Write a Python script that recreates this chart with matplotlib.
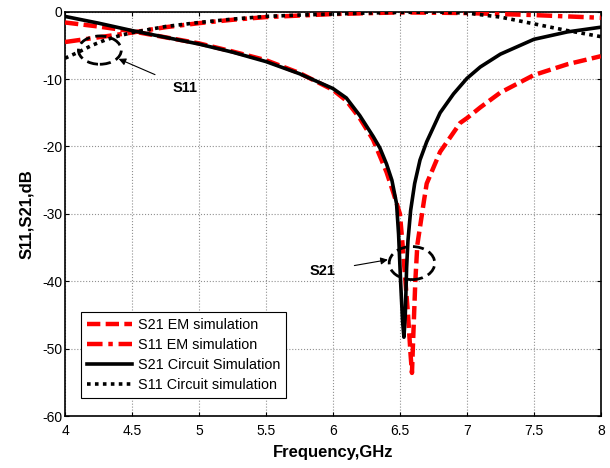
import matplotlib
matplotlib.use("Agg")
import matplotlib.pyplot as plt
from matplotlib.patches import Ellipse

plt.rcParams['font.family'] = ['Liberation Sans', 'DejaVu Sans']

# S21 circuit simulation (black solid)
f_s21c = [4.0, 4.25, 4.5, 4.75, 5.0, 5.25, 5.5, 5.75, 6.0, 6.1, 6.2, 6.3, 6.35, 6.4, 6.44,
          6.475, 6.49, 6.505, 6.52, 6.53, 6.54, 6.55, 6.56, 6.58, 6.61, 6.65, 6.7, 6.8,
          6.9, 7.0, 7.1, 7.25, 7.5, 7.75, 8.0]
s21c = [-0.7, -1.7, -2.8, -3.8, -4.8, -6.0, -7.4, -9.2, -11.4, -12.8, -15.4, -18.5, -20.2, -22.6, -25.0,
        -28.5, -33.0, -40.0, -46.0, -48.3, -45.0, -38.0, -34.0, -29.5, -25.5, -22.0, -19.3, -15.0,
        -12.2, -9.9, -8.2, -6.3, -4.1, -3.0, -2.3]

# S21 EM simulation (red dashed)
f_s21e = [4.0, 4.25, 4.5, 4.75, 5.0, 5.25, 5.5, 5.75, 6.0, 6.1, 6.2, 6.3, 6.4, 6.45, 6.5,
          6.52, 6.56, 6.58, 6.59, 6.6, 6.615, 6.63, 6.68, 6.7, 6.8, 6.95, 7.0, 7.1, 7.25,
          7.5, 7.75, 8.0]
s21e = [-1.6, -2.2, -2.9, -3.8, -4.7, -5.9, -7.2, -9.1, -11.6, -13.2, -15.8, -19.0, -23.8, -26.8, -30.0,
        -34.6, -44.8, -51.0, -53.6, -48.0, -40.0, -34.6, -28.0, -25.5, -20.8, -16.5, -15.8, -14.2, -12.0,
        -9.4, -7.8, -6.6]

# S11 EM simulation (red dash-dot)
f_s11e = [4.0, 4.25, 4.5, 4.75, 5.0, 5.25, 5.5, 6.0, 6.5, 7.0, 7.5, 8.0]
s11e = [-4.5, -3.8, -3.1, -2.3, -1.7, -1.2, -0.8, -0.35, -0.1, -0.2, -0.5, -0.9]

# S11 circuit simulation (black dotted)
f_s11c = [4.0, 4.1, 4.2, 4.3, 4.4, 4.5, 4.75, 5.0, 5.25, 5.5, 5.75, 6.0, 6.25, 6.5, 6.75,
          7.0, 7.25, 7.5, 7.75, 8.0]
s11c = [-6.9, -6.0, -5.0, -4.2, -3.6, -3.1, -2.2, -1.6, -1.1, -0.7, -0.5, -0.35, -0.2, -0.1, -0.05,
        -0.2, -0.8, -1.8, -2.8, -3.7]

xticks = [4, 4.5, 5, 5.5, 6, 6.5, 7, 7.5, 8]
xticklabels = ['4', '4.5', '5', '5.5', '6', '6.5', '7', '7.5', '8']
yticks = [-60, -50, -40, -30, -20, -10, 0]
yticklabels = ['-60', '-50', '-40', '-30', '-20', '-10', '0']

fig = plt.figure(figsize=(6.10, 4.68), dpi=100)
ax = fig.add_axes([0.1066, 0.111, 0.8784, 0.864])

ax.plot(f_s21e, s21e, color='red', lw=3.2, ls=(0, (3, 1.2)), label='S21 EM simulation', zorder=3)
ax.plot(f_s11e, s11e, color='red', lw=3.2, ls=(0, (3.5, 1.3, 1, 1.3)), label='S11 EM simulation', zorder=3)
ax.plot(f_s21c, s21c, color='black', lw=2.6, ls='-', label='S21 Circuit Simulation', zorder=4)
ax.plot(f_s11c, s11c, color='black', lw=2.6, ls=(0, (1, 1.2)), label='S11 Circuit simulation', zorder=4)

ax.set_xlim(4, 8)
ax.set_ylim(-60, 0)
ax.set_xticks(xticks)
ax.set_xticklabels(xticklabels)
ax.set_yticks(yticks)
ax.set_yticklabels(yticklabels)
ax.tick_params(direction='in', labelsize=10, length=3, top=True, right=True)
ax.tick_params(axis='x', pad=6)
ax.tick_params(axis='y', pad=2)
ax.grid(True, color='#909090', ls=':', lw=0.8)
for s in ax.spines.values():
    s.set_linewidth(1.2)

ax.set_xlabel('Frequency,GHz', fontsize=12, fontweight='bold', labelpad=5)
ax.set_ylabel('S11,S21,dB', fontsize=12, fontweight='bold', labelpad=6)

# annotations
ax.add_patch(Ellipse((4.26, -5.7), 0.32, 4.2, fill=False, ec='black', lw=2, ls=(0, (4, 2)), zorder=5))
ax.annotate('S11', xy=(4.40, -7.0), xytext=(4.90, -11.3), fontsize=10.5, fontweight='bold',
            ha='center', va='center',
            arrowprops=dict(arrowstyle='-|>', color='black', lw=0.8, shrinkA=12, shrinkB=0))
ax.add_patch(Ellipse((6.59, -37.3), 0.34, 4.9, fill=False, ec='black', lw=2, ls=(0, (4, 2)), zorder=5))
ax.annotate('S21', xy=(6.41, -36.8), xytext=(5.92, -38.5), fontsize=10.5, fontweight='bold',
            ha='center', va='center',
            arrowprops=dict(arrowstyle='-|>', color='black', lw=0.8, shrinkA=12, shrinkB=0))

leg = ax.legend(loc='lower left', bbox_to_anchor=(0.03, 0.045), fontsize=10.4, handlelength=3.1,
                frameon=True, fancybox=False, edgecolor='black', framealpha=1,
                borderpad=0.4, labelspacing=0.42, handletextpad=0.45, borderaxespad=0)
leg.get_frame().set_linewidth(0.8)

fig.savefig('out.png', dpi=100)
